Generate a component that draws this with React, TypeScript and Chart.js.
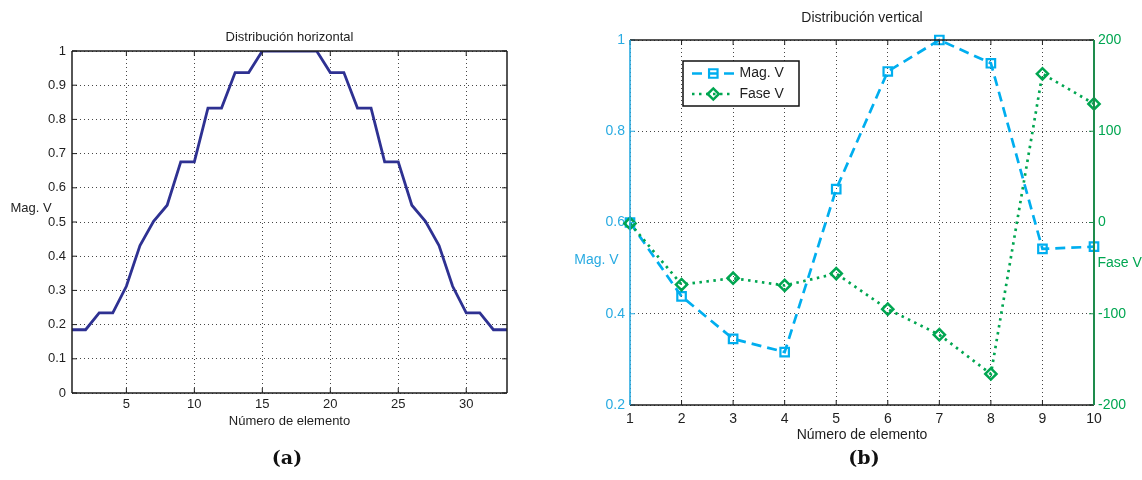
import { useEffect, useRef } from "react";
import { Chart, registerables } from "chart.js";

Chart.register(...registerables);

// ---------- data: (a) Distribución horizontal ----------
const hElements = [1, 2, 3, 4, 5, 6, 7, 8, 9, 10, 11, 12, 13, 14, 15, 16, 17, 18, 19, 20, 21, 22, 23, 24, 25, 26, 27, 28, 29, 30, 31, 32, 33];
const hMagnitude = [0.185, 0.185, 0.234, 0.234, 0.312, 0.431, 0.502, 0.549, 0.676, 0.676, 0.833, 0.833, 0.937, 0.937, 1, 1, 1, 1, 1, 0.937, 0.937, 0.833, 0.833, 0.676, 0.676, 0.549, 0.502, 0.431, 0.312, 0.234, 0.234, 0.185, 0.185];
const hXTicks = [5, 10, 15, 20, 25, 30];
const hYTicks = [0, 0.1, 0.2, 0.3, 0.4, 0.5, 0.6, 0.7, 0.8, 0.9, 1];

// ---------- data: (b) Distribución vertical ----------
const vElements = [1, 2, 3, 4, 5, 6, 7, 8, 9, 10];
const vMagnitude = [0.6, 0.438, 0.345, 0.316, 0.673, 0.931, 1.0, 0.949, 0.542, 0.547];
const vPhase = [-1, -68, -61, -69, -56, -95, -123, -166, 163, 130];
const vXTicks = [1, 2, 3, 4, 5, 6, 7, 8, 9, 10];
const vMagTicks = [0.2, 0.4, 0.6, 0.8, 1];
const vPhaseTicks = [-200, -100, 0, 100, 200];

// ---------- styles ----------
const FONT = "'Liberation Sans', Arial, Helvetica, sans-serif";
const INK = "#1e1e1e";
const GRID = "rgba(50,50,50,0.9)";
const GRID_DASH = [1, 3];
const NAVY = "#2E3192";
const CYAN = "#00AEEF";
const CYAN_AXIS = "#29ABE2";
const GREEN = "#00A651";
const GREEN_AXIS = "#1E8C4C";

function fixedTicks(values: number[]) {
  return (scale: any) => {
    scale.ticks = values.map((value) => ({ value }));
  };
}

type TextItem = { text: string; x: number; y: number; color: string; size: number; align: CanvasTextAlign };
type Edge = { side: "top" | "bottom" | "left" | "right"; color: string; width: number };
type TickSpec = { scale: string; sides: ("top" | "bottom" | "left" | "right")[]; color: string };
type LegendSpec = {
  box: [number, number, number, number];
  rowsY: number[];
  lineX: [number, number];
  markerX: number;
  textX: number;
  size: number;
};

function framePlugin(spec: { edges: Edge[]; ticks: TickSpec[]; texts: TextItem[]; legend?: LegendSpec }) {
  const L = 5;
  return {
    id: "matlabFrame",
    afterDatasetsDraw(chart: any) {
      const { ctx, chartArea: a } = chart;
      ctx.save();
      ctx.setLineDash([]);
      for (const t of spec.ticks) {
        const scale = chart.scales[t.scale];
        ctx.strokeStyle = t.color;
        ctx.lineWidth = 1;
        for (const tick of scale.ticks) {
          const p = scale.getPixelForValue(tick.value);
          ctx.beginPath();
          for (const side of t.sides) {
            if (side === "bottom") { ctx.moveTo(p, a.bottom); ctx.lineTo(p, a.bottom - L); }
            if (side === "top") { ctx.moveTo(p, a.top); ctx.lineTo(p, a.top + L); }
            if (side === "left") { ctx.moveTo(a.left, p); ctx.lineTo(a.left + L, p); }
            if (side === "right") { ctx.moveTo(a.right, p); ctx.lineTo(a.right - L, p); }
          }
          ctx.stroke();
        }
      }
      for (const e of spec.edges) {
        ctx.strokeStyle = e.color;
        ctx.lineWidth = e.width;
        ctx.beginPath();
        if (e.side === "top") { ctx.moveTo(a.left, a.top); ctx.lineTo(a.right, a.top); }
        if (e.side === "bottom") { ctx.moveTo(a.left, a.bottom); ctx.lineTo(a.right, a.bottom); }
        if (e.side === "left") { ctx.moveTo(a.left, a.top); ctx.lineTo(a.left, a.bottom); }
        if (e.side === "right") { ctx.moveTo(a.right, a.top); ctx.lineTo(a.right, a.bottom); }
        ctx.stroke();
      }
      ctx.restore();
    },
    afterDraw(chart: any) {
      const { ctx } = chart;
      ctx.save();
      ctx.textBaseline = "middle";
      for (const t of spec.texts) {
        ctx.font = `${t.size}px ${FONT}`;
        ctx.fillStyle = t.color;
        ctx.textAlign = t.align;
        ctx.fillText(t.text, t.x, t.y);
      }
      const lg = spec.legend;
      if (lg) {
        const [bx, by, bw, bh] = lg.box;
        ctx.fillStyle = "#ffffff";
        ctx.fillRect(bx, by, bw, bh);
        ctx.strokeStyle = "#111111";
        ctx.lineWidth = 1.5;
        ctx.strokeRect(bx, by, bw, bh);
        chart.data.datasets.forEach((ds: any, i: number) => {
          const y = lg.rowsY[i];
          ctx.strokeStyle = ds.borderColor;
          ctx.lineWidth = ds.borderWidth;
          ctx.setLineDash(ds.borderDash || []);
          ctx.beginPath();
          ctx.moveTo(lg.lineX[0], y);
          ctx.lineTo(lg.lineX[1], y);
          ctx.stroke();
          ctx.setLineDash([]);
          ctx.lineWidth = ds.pointBorderWidth;
          ctx.beginPath();
          const r = ds.pointRadius;
          if (ds.pointStyle === "rect") {
            const s = Math.SQRT1_2 * r;
            ctx.rect(lg.markerX - s, y - s, 2 * s, 2 * s);
          } else {
            ctx.moveTo(lg.markerX - r, y);
            ctx.lineTo(lg.markerX, y - r);
            ctx.lineTo(lg.markerX + r, y);
            ctx.lineTo(lg.markerX, y + r);
            ctx.closePath();
          }
          ctx.stroke();
          ctx.font = `${lg.size}px ${FONT}`;
          ctx.fillStyle = INK;
          ctx.textAlign = "left";
          ctx.fillText(ds.label, lg.textX, y);
        });
      }
      ctx.restore();
    },
  };
}

function buildHorizontal(): any {
  return {
    type: "line",
    data: {
      datasets: [
        {
          label: "Mag. V",
          data: hElements.map((x, i) => ({ x, y: hMagnitude[i] })),
          borderColor: NAVY,
          borderWidth: 2.8,
          pointRadius: 0,
          tension: 0,
          clip: 0,
        },
      ],
    },
    options: {
      responsive: false,
      animation: false,
      devicePixelRatio: 1,
      events: [],
      layout: { padding: { top: 51, right: 53, left: 0, bottom: 0 } },
      plugins: { legend: { display: false }, tooltip: { enabled: false }, title: { display: false } },
      scales: {
        x: {
          type: "linear",
          min: 1,
          max: 33,
          afterBuildTicks: fixedTicks(hXTicks),
          afterFit: (s: any) => { s.height = 87; },
          ticks: { padding: 4, color: INK, font: { family: FONT, size: 13 }, maxRotation: 0, autoSkip: false, callback: (v: any) => String(v) },
          grid: { color: GRID, lineWidth: 1, drawTicks: false },
          border: { display: false, dash: GRID_DASH },
        },
        y: {
          type: "linear",
          min: 0,
          max: 1,
          afterBuildTicks: fixedTicks(hYTicks),
          afterFit: (s: any) => { s.width = 72; },
          ticks: { padding: 6, color: INK, font: { family: FONT, size: 13 }, autoSkip: false, callback: (v: any) => String(v) },
          grid: { color: GRID, lineWidth: 1, drawTicks: false },
          border: { display: false, dash: GRID_DASH },
        },
      },
    },
    plugins: [
      framePlugin({
        edges: [
          { side: "top", color: INK, width: 1.5 },
          { side: "bottom", color: INK, width: 1.5 },
          { side: "left", color: INK, width: 1.5 },
          { side: "right", color: INK, width: 1.5 },
        ],
        ticks: [
          { scale: "x", sides: ["bottom", "top"], color: INK },
          { scale: "y", sides: ["left", "right"], color: INK },
        ],
        texts: [
          { text: "Distribución horizontal", x: 289.5, y: 37, color: INK, size: 13, align: "center" },
          { text: "Número de elemento", x: 289.5, y: 421, color: INK, size: 13, align: "center" },
          { text: "Mag. V", x: 31, y: 208, color: INK, size: 13, align: "center" },
        ],
      }),
    ],
  };
}

function buildVertical(): any {
  return {
    type: "line",
    data: {
      datasets: [
        {
          label: "Mag. V",
          data: vElements.map((x, i) => ({ x, y: vMagnitude[i] })),
          yAxisID: "y",
          borderColor: CYAN,
          borderWidth: 2.7,
          borderDash: [10, 6],
          tension: 0,
          pointStyle: "rect",
          pointRadius: 6,
          pointBorderWidth: 2.2,
          pointBorderColor: CYAN,
          pointBackgroundColor: "rgba(255,255,255,0)",
          order: 2,
          clip: false,
        },
        {
          label: "Fase V",
          data: vElements.map((x, i) => ({ x, y: vPhase[i] })),
          yAxisID: "y1",
          borderColor: GREEN,
          borderWidth: 2.7,
          borderDash: [2.5, 4.5],
          tension: 0,
          pointStyle: "rectRot",
          pointRadius: 5.6,
          pointBorderWidth: 2.5,
          pointBorderColor: GREEN,
          pointBackgroundColor: "rgba(255,255,255,0)",
          order: 1,
          clip: false,
        },
      ],
    },
    options: {
      responsive: false,
      animation: false,
      devicePixelRatio: 1,
      events: [],
      layout: { padding: { top: 40, right: 0, left: 0, bottom: 0 } },
      plugins: { legend: { display: false }, tooltip: { enabled: false }, title: { display: false } },
      scales: {
        x: {
          type: "linear",
          min: 1,
          max: 10,
          afterBuildTicks: fixedTicks(vXTicks),
          afterFit: (s: any) => { s.height = 75; },
          ticks: { padding: 6, color: INK, font: { family: FONT, size: 14 }, maxRotation: 0, autoSkip: false, callback: (v: any) => String(v) },
          grid: { color: GRID, lineWidth: 1, drawTicks: false },
          border: { display: false, dash: GRID_DASH },
        },
        y: {
          type: "linear",
          position: "left",
          min: 0.2,
          max: 1,
          afterBuildTicks: fixedTicks(vMagTicks),
          afterFit: (s: any) => { s.width = 70; },
          ticks: { padding: 5, color: CYAN_AXIS, font: { family: FONT, size: 14 }, autoSkip: false, callback: (v: any) => String(v) },
          grid: { color: GRID, lineWidth: 1, drawTicks: false },
          border: { display: false, dash: GRID_DASH },
        },
        y1: {
          type: "linear",
          position: "right",
          min: -200,
          max: 200,
          afterBuildTicks: fixedTicks(vPhaseTicks),
          afterFit: (s: any) => { s.width = 48; },
          ticks: { padding: 4, color: GREEN, font: { family: FONT, size: 14 }, autoSkip: false, callback: (v: any) => String(v) },
          grid: { display: false, drawTicks: false },
          border: { display: false },
        },
      },
    },
    plugins: [
      framePlugin({
        edges: [
          { side: "top", color: INK, width: 1.5 },
          { side: "bottom", color: INK, width: 1.5 },
          { side: "left", color: CYAN_AXIS, width: 1.6 },
          { side: "right", color: GREEN_AXIS, width: 2 },
        ],
        ticks: [
          { scale: "x", sides: ["bottom", "top"], color: INK },
          { scale: "y", sides: ["left"], color: CYAN_AXIS },
          { scale: "y1", sides: ["right"], color: GREEN_AXIS },
        ],
        texts: [
          { text: "Distribución vertical", x: 302, y: 18.5, color: INK, size: 14, align: "center" },
          { text: "Número de elemento", x: 302, y: 435, color: INK, size: 14, align: "center" },
          { text: "Mag. V", x: 36.5, y: 260, color: CYAN_AXIS, size: 14, align: "center" },
          { text: "Fase V", x: 537.5, y: 263.5, color: GREEN, size: 14, align: "left" },
        ],
        legend: {
          box: [123, 61, 116, 45],
          rowsY: [73.5, 94],
          lineX: [132, 174],
          markerX: 153.3,
          textX: 179.5,
          size: 14,
        },
      }),
    ],
  };
}

function ChartCanvas({ left, width, build }: { left: number; width: number; build: () => any }) {
  const ref = useRef<HTMLCanvasElement>(null);
  useEffect(() => {
    const chart = new Chart(ref.current as HTMLCanvasElement, build());
    return () => chart.destroy();
  }, []);
  return (
    <canvas
      ref={ref}
      width={width}
      height={480}
      style={{ position: "absolute", left, top: 0, width, height: 480, display: "block" }}
    />
  );
}

const capStyle: any = {
  position: "absolute",
  width: 100,
  textAlign: "center",
  top: 446,
  lineHeight: "22px",
  fontFamily: "'DejaVu Serif', serif",
  fontWeight: "bold",
  fontSize: 19,
  color: "#111",
};

export default function App() {
  return (
    <div style={{ position: "absolute", left: 0, top: 0, width: 1142, height: 480, background: "#fff", overflow: "hidden" }}>
      <ChartCanvas left={0} width={560} build={buildHorizontal} />
      <ChartCanvas left={560} width={582} build={buildVertical} />
      <div style={{ ...capStyle, left: 287 - 50 }}>(a)</div>
      <div style={{ ...capStyle, left: 864 - 50 }}>(b)</div>
    </div>
  );
}
